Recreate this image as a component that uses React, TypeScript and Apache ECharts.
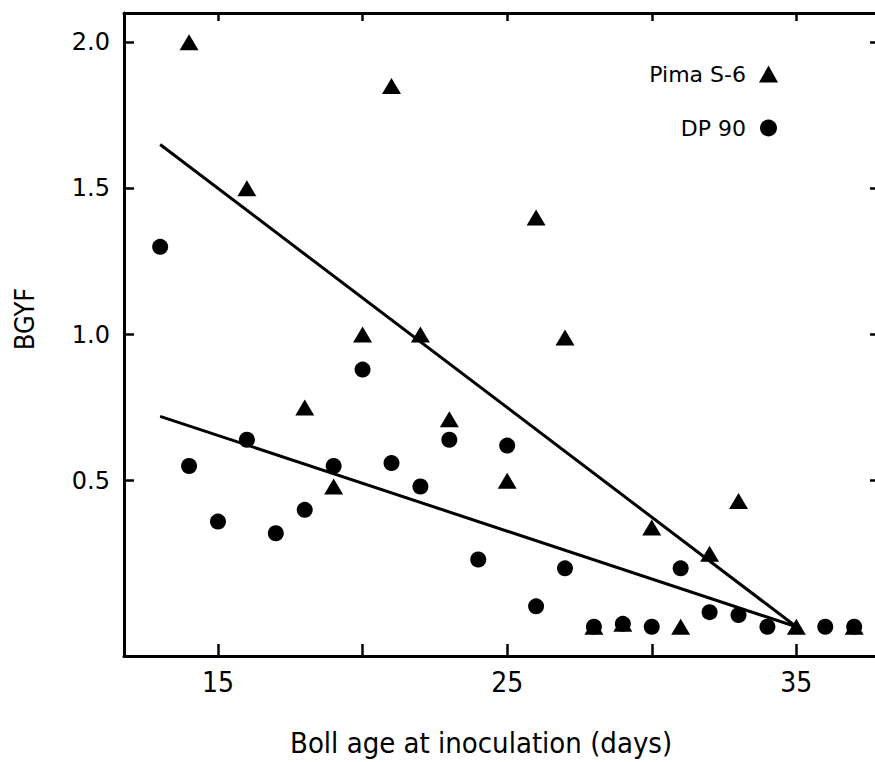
import React, { useEffect, useRef } from "react";
import * as echarts from "echarts";

const pimaDays = [14, 16, 18, 19, 20, 21, 22, 23, 25, 26, 27, 28, 29, 30, 31, 32, 33, 35, 37];
const pimaBGYF = [2.0, 1.5, 0.75, 0.48, 1.0, 1.85, 1.0, 0.71, 0.5, 1.4, 0.99, 0, 0.01, 0.34, 0, 0.25, 0.43, 0, 0];

const dpDays = [13, 14, 15, 16, 17, 18, 19, 20, 21, 22, 23, 24, 25, 26, 27, 28, 29, 30, 31, 32, 33, 34, 36, 37];
const dpBGYF = [1.3, 0.55, 0.36, 0.64, 0.32, 0.4, 0.55, 0.88, 0.56, 0.48, 0.64, 0.23, 0.62, 0.07, 0.2, 0, 0.01, 0, 0.2, 0.05, 0.04, 0, 0, 0];

const pimaFitX = [13, 35];
const pimaFitY = [1.65, 0];
const dpFitX = [13, 35];
const dpFitY = [0.72, 0];

const xTicks = [15, 20, 25, 30, 35];
const xTickLabels = [15, 25, 35];
const yTicks = [0.5, 1.0, 1.5, 2.0];

const seriesNames = ["Pima S-6", "DP 90"];
const xTitle = "Boll age at inoculation (days)";
const yTitle = "BGYF";

const narrow = "Liberation Sans Narrow, DejaVu Sans Condensed, Roboto Condensed, DejaVu Sans, sans-serif";
const wide = "DejaVu Sans, Liberation Sans, sans-serif";

export default function App() {
  const ref = useRef<HTMLDivElement>(null);
  useEffect(() => {
    if (!ref.current) return;
    const chart = echarts.init(ref.current, undefined, { renderer: "svg" });
    const pair = (xs: number[], ys: number[]) => xs.map((x, i) => [x, ys[i]]);
    chart.setOption({
      animation: false,
      backgroundColor: "#fff",
      grid: { left: 124, top: 13, right: -2, bottom: 106, containLabel: false },
      xAxis: [
        {
          type: "value",
          position: "bottom",
          min: 11.75,
          max: 37.72,
          splitLine: { show: false },
          axisLine: { onZero: false, lineStyle: { color: "#000", width: 3 } },
          axisTick: { inside: true, length: 12, lineStyle: { color: "#000", width: 2.5 }, customValues: xTicks },
          axisLabel: {
            customValues: xTickLabels,
            margin: 12,
            color: "#000",
            fontSize: 28,
            fontFamily: narrow,
          },
        },
        {
          type: "value",
          position: "top",
          min: 11.75,
          max: 37.72,
          splitLine: { show: false },
          axisLine: { onZero: false, lineStyle: { color: "#000", width: 3 } },
          axisTick: { inside: true, length: 8, lineStyle: { color: "#000", width: 2.5 }, customValues: xTicks },
          axisLabel: { show: false },
        },
      ],
      yAxis: [
        {
          type: "value",
          position: "left",
          min: -0.1,
          max: 2.1,
          splitLine: { show: false },
          axisLine: { onZero: false, lineStyle: { color: "#000", width: 3 } },
          axisTick: { inside: true, length: 10, lineStyle: { color: "#000", width: 2.5 }, customValues: yTicks },
          axisLabel: {
            customValues: yTicks,
            formatter: (v: number) => v.toFixed(1),
            margin: 14,
            color: "#000",
            fontSize: 24,
            fontWeight: 500,
            fontFamily: wide,
          },
        },
        {
          type: "value",
          position: "right",
          min: -0.1,
          max: 2.1,
          splitLine: { show: false },
          axisLine: { show: false, onZero: false },
          axisTick: { inside: true, length: 5, lineStyle: { color: "#000", width: 2.5 }, customValues: yTicks },
          axisLabel: { show: false },
        },
      ],
      legend: {
        data: seriesNames,
        orient: "vertical",
        align: "right",
        right: 92,
        top: 58,
        itemWidth: 19,
        itemHeight: 17,
        itemGap: 32,
        textStyle: { color: "#000", fontSize: 22, fontFamily: wide, padding: [0, 8, 0, 0] },
      },
      graphic: [
        {
          type: "text",
          left: 490 - 200,
          top: 728,
          style: {
            text: xTitle,
            fontSize: 29,
            fontFamily: narrow,
            fill: "#000",
            width: 400,
            align: "center",
          },
        },
        {
          type: "text",
          x: 24,
          y: 319,
          rotation: Math.PI / 2,
          style: {
            text: yTitle,
            fontSize: 27,
            fontFamily: narrow,
            fill: "#000",
            align: "center",
            verticalAlign: "middle",
          },
        },
      ],
      series: [
        {
          name: seriesNames[0],
          type: "scatter",
          symbol: "triangle",
          symbolSize: [19, 16],
          itemStyle: { color: "#000", opacity: 1 },
          data: pair(pimaDays, pimaBGYF),
          z: 3,
        },
        {
          name: seriesNames[1],
          type: "scatter",
          symbol: "circle",
          symbolSize: 16,
          itemStyle: { color: "#000", opacity: 1 },
          data: pair(dpDays, dpBGYF),
          z: 2,
        },
        {
          name: "Pima fit",
          type: "line",
          showSymbol: false,
          silent: true,
          lineStyle: { color: "#000", width: 3 },
          data: pair(pimaFitX, pimaFitY),
          z: 1,
        },
        {
          name: "DP fit",
          type: "line",
          showSymbol: false,
          silent: true,
          lineStyle: { color: "#000", width: 3 },
          data: pair(dpFitX, dpFitY),
          z: 1,
        },
      ],
    });
    return () => chart.dispose();
  }, []);
  return (
    <div
      ref={ref}
      style={{ position: "fixed", left: 0, top: 0, width: 875, height: 762, background: "#fff" }}
    />
  );
}
